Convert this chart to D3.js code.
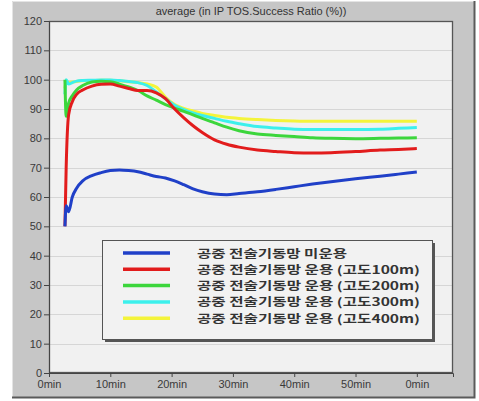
<!DOCTYPE html>
<html><head><meta charset="utf-8">
<script src="https://cdn.jsdelivr.net/npm/d3@7/dist/d3.min.js"></script>
<style>body{margin:0;background:#fff}svg{display:block}</style>
</head><body>
<svg id="c" width="479" height="401"></svg>
<script>
const times = [2.6, 2.8, 3.2, 3.8, 4.5, 5.5, 7, 8.5, 10, 11.5, 13, 14.5, 16, 17.5, 19, 20.5, 22, 23.5, 25, 27, 29, 31, 34, 37, 40, 43, 46, 50, 54, 57, 60];
const blueVals   = [50, 57, 55, 60, 63, 65.5, 67.3, 68.3, 69, 69.2, 69, 68.6, 67.8, 67, 66.5, 65.5, 64.2, 62.8, 61.8, 61, 60.8, 61.2, 61.8, 62.6, 63.5, 64.4, 65.2, 66.2, 67.1, 67.8, 68.5];
const redVals    = [50, 70, 88, 92.5, 95, 96.5, 97.8, 98.4, 98.5, 97.8, 97, 96.3, 96.3, 95.5, 93.5, 90, 87, 84.3, 82, 79.5, 78, 77, 76, 75.5, 75.1, 75, 75.1, 75.5, 76, 76.2, 76.5];
const greenVals  = [100, 87.5, 92, 94.5, 96.5, 98, 99.2, 99.5, 99.3, 98.5, 97.5, 96.3, 94.5, 93, 91.5, 90.3, 89.2, 88, 86.8, 85.3, 83.8, 82.6, 81.5, 81, 80.6, 80.2, 80, 79.9, 80, 80.1, 80.2];
const cyanVals   = [95, 100, 98.5, 99, 99.5, 99.7, 99.8, 99.9, 99.9, 99.7, 99.4, 99, 98, 95.8, 93.5, 91.3, 89.8, 88.7, 87.8, 86.8, 85.8, 85, 84, 83.5, 83.1, 83, 83, 83, 83.1, 83.4, 83.7];
const yellowVals = [97, 99.5, 99, 99.2, 99.4, 99.6, 99.7, 99.8, 99.8, 99.6, 99.3, 99, 98.5, 97.5, 94, 91.5, 90.2, 89.3, 88.5, 87.8, 87.2, 86.8, 86.4, 86.1, 85.9, 85.8, 85.8, 85.8, 85.8, 85.8, 85.8];
const seriesNames = ["공중 전술기동망 미운용", "공중 전술기동망 운용 (고도100m)", "공중 전술기동망 운용 (고도200m)", "공중 전술기동망 운용 (고도300m)", "공중 전술기동망 운용 (고도400m)"];
const seriesColors = ["#2040c8", "#e21c1c", "#3cd63c", "#3cf0ec", "#f4f43a"];
const yTicks = [0, 10, 20, 30, 40, 50, 60, 70, 80, 90, 100, 110, 120];
const xTicks = [0, 10, 20, 30, 40, 50, 60];
const xTickLabels = ["0min", "10min", "20min", "30min", "40min", "50min", "0min"];
const title = "average (in IP TOS.Success Ratio (%))";

const allVals = [blueVals, redVals, greenVals, cyanVals, yellowVals];
const svg = d3.select("#c");
const L = 49, R = 453, T = 21, B = 373;

// outer panel
svg.append("rect").attr("x", 12).attr("y", 1).attr("width", 463).attr("height", 397).attr("fill", "#c6c6c6");
svg.append("path").attr("d", "M12.5,398V1.5H475").attr("fill", "none").attr("stroke", "#e4e4e4").attr("stroke-width", 1);
svg.append("path").attr("d", "M12,397.5H474.5V1").attr("fill", "none").attr("stroke", "#5a5a5a").attr("stroke-width", 2);

const x = d3.scaleLinear().domain([0, 65.9]).range([L, R]);
const y = d3.scaleLinear().domain([0, 120]).range([B, T]);

svg.append("rect").attr("x", L).attr("y", T).attr("width", R - L).attr("height", B - T).attr("fill", "#f1f1f1");

// grid
svg.append("g").selectAll("line").data(yTicks.filter(d => d > 0 && d < 120)).join("line")
  .attr("x1", L).attr("x2", R).attr("y1", d => Math.round(y(d)) + 0.5).attr("y2", d => Math.round(y(d)) + 0.5)
  .attr("stroke", "#d6d6d6").attr("stroke-width", 1.2);

svg.append("rect").attr("x", L + 0.5).attr("y", T + 0.5).attr("width", R - L - 1).attr("height", B - T - 1)
  .attr("fill", "none").attr("stroke", "#555").attr("stroke-width", 1.3);

// axes
const yAxis = d3.axisLeft(y).tickValues(yTicks).tickSize(5).tickPadding(2);
const gy = svg.append("g").attr("transform", `translate(${L},0)`).call(yAxis);
const xAxis = d3.axisBottom(x).tickValues(xTicks).tickSize(4).tickPadding(3).tickFormat((d, i) => xTickLabels[i]);
const gx = svg.append("g").attr("transform", `translate(0,${B})`).call(xAxis);
[gy, gx].forEach(g => {
  g.select(".domain").attr("stroke", "#444");
  g.selectAll(".tick line").attr("stroke", "#444");
  g.selectAll("text").attr("fill", "#3a3a3a").style("font-family", "Liberation Sans, Arial, sans-serif").style("font-size", "11px");
});

// title
svg.append("text").attr("x", (L + R) / 2).attr("y", 15).attr("text-anchor", "middle")
  .style("font-family", "Liberation Sans, Arial, sans-serif").style("font-size", "11px").attr("fill", "#333").text(title);

// lines
const line = d3.line().x(d => x(d[0])).y(d => y(d[1])).curve(d3.curveMonotoneX);
const order = [4, 3, 2, 1, 0];
order.forEach(i => {
  svg.append("path").datum(times.map((t, k) => [t, allVals[i][k]]))
    .attr("d", line).attr("fill", "none").attr("stroke", seriesColors[i]).attr("stroke-width", 3)
    .attr("stroke-linejoin", "round");
});

// legend
const lgX = 102, lgY = 240, lgW = 330, lgH = 99;
svg.append("rect").attr("x", lgX + 3).attr("y", lgY + 3).attr("width", lgW).attr("height", lgH).attr("fill", "#555");
svg.append("rect").attr("x", lgX + 0.5).attr("y", lgY + 0.5).attr("width", lgW).attr("height", lgH).attr("fill", "#f2f2f2").attr("stroke", "#555");
const lg = svg.append("g");
seriesNames.forEach((n, i) => {
  const yy = 253 + i * 16.3;
  lg.append("line").attr("x1", 123).attr("x2", 170).attr("y1", yy).attr("y2", yy).attr("stroke", seriesColors[i]).attr("stroke-width", 3.5);
  lg.append("text").attr("x", 197).attr("y", yy + 4.5).style("font-family", "Noto Sans CJK KR, sans-serif")
    .style("font-size", "11px").style("font-weight", "bold").attr("fill", "#333")
    .attr("textLength", i === 0 ? 150 : 223).attr("lengthAdjust", "spacingAndGlyphs").text(n);
});
</script>
</body></html>
